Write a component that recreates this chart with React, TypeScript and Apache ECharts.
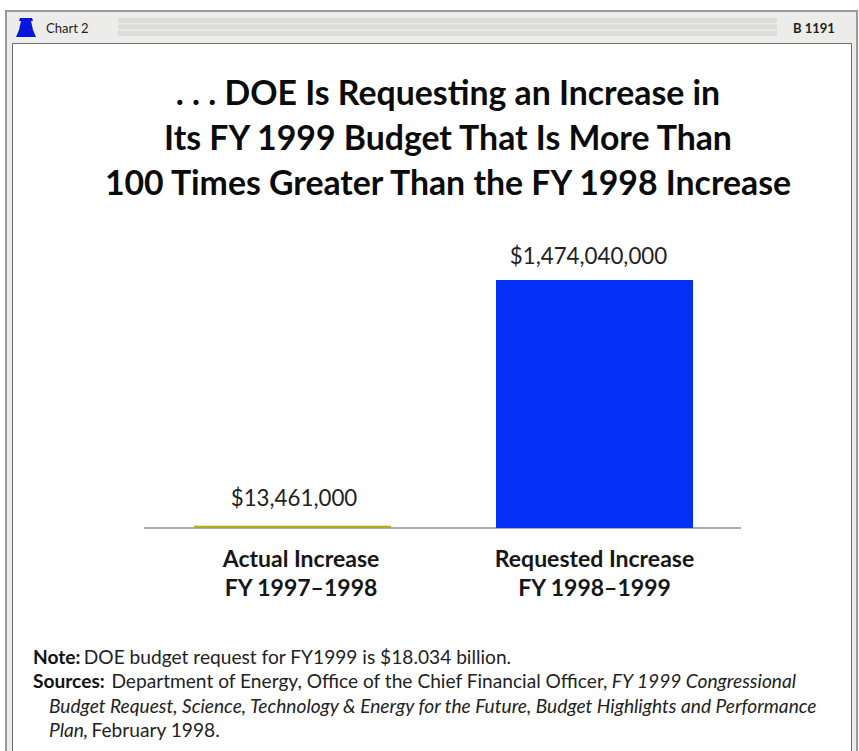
import React, { useEffect, useRef } from "react";
import * as echarts from "echarts";

const categories = ["Actual Increase\nFY 1997–1998", "Requested Increase\nFY 1998–1999"];
const increases = [13461000, 1474040000];
const valueLabels = ["$13,461,000", "$1,474,040,000"];
const barColors = ["#b3ad1e", "#0530f8"];
const titleText = ". . . DOE Is Requesting an Increase in\nIts FY 1999 Budget That Is More Than\n100 Times Greater Than the FY 1998 Increase";
const chartTag = "Chart 2";
const reportTag = "B 1191";

const FONT = "Lato";
const NOTE_SIZE = 19.15;

echarts.graphic.registerShape(
  "bellIcon",
  echarts.graphic.extendPath(
    "M4 0 L16 0 L17 3 L15 3 L17 12 L20 19 L0 19 L3 12 L5 3 L3 3 Z",
    {}
  )
);

const headerStripes = [18, 24.5, 31].map((y) => ({
  type: "rect",
  shape: { x: 118, y, width: 659, height: 5 },
  style: { fill: "#dcdcd8" },
  silent: true,
}));

export default function App() {
  const ref = useRef<HTMLDivElement>(null);

  useEffect(() => {
    const chart = echarts.init(ref.current!, null, { renderer: "svg" });
    chart.setOption({
      animation: false,
      backgroundColor: "#ffffff",
      title: {
        text: titleText,
        left: 443,
        top: 64,
        textAlign: "center",
        textStyle: {
          fontFamily: FONT,
          fontWeight: "bold",
          fontSize: 33.8,
          lineHeight: 45,
          color: "#0b0b0b",
        },
      },
      grid: { left: 141.5, top: 280, width: 604, height: 248 },
      xAxis: {
        type: "category",
        data: categories,
        axisLine: { show: false },
        axisTick: { show: false },
        axisLabel: {
          margin: 15,
          formatter: (value: string, index: number) =>
            value
              .split("\n")
              .map((line) => `{${index === 0 ? "first" : "second"}|${line}}`)
              .join("\n"),
          rich: {
            first: {
              fontFamily: FONT,
              fontWeight: "bold",
              fontSize: 23,
              lineHeight: 29,
              color: "#161616",
              padding: [0, 0, 0, 17],
            },
            second: {
              fontFamily: FONT,
              fontWeight: "bold",
              fontSize: 23,
              lineHeight: 29,
              color: "#161616",
            },
          },
        },
      },
      yAxis: { type: "value", min: 0, max: 1474040000, show: false },
      series: [
        {
          type: "bar",
          barWidth: 197,
          data: increases.map((value, i) => ({
            value,
            itemStyle: { color: barColors[i] },
            label: {
              show: true,
              position: "top",
              distance: i === 0 ? 17 : 14,
              offset: i === 0 ? [1.5, 0] : [-6, 0],
              formatter: valueLabels[i],
              fontFamily: FONT,
              fontSize: 22.3,
              color: "#222",
            },
          })),
        },
      ],
      graphic: [
        {
          type: "rect",
          z: -10,
          shape: { x: 6, y: 11, width: 851, height: 745 },
          style: { fill: "#ececea", stroke: "#9a9a9a", lineWidth: 2 },
          silent: true,
        },
        ...headerStripes,
        {
          type: "rect",
          z: -5,
          shape: { x: 12.5, y: 43.5, width: 839, height: 712 },
          style: { fill: "#ffffff", stroke: "#6e6e6e", lineWidth: 1 },
          silent: true,
        },
        {
          type: "line",
          shape: { x1: 144, y1: 528, x2: 741, y2: 528 },
          style: { stroke: "#8f8f8f", lineWidth: 1.5 },
          silent: true,
          z: -1,
        },
        { type: "bellIcon", x: 16, y: 18, style: { fill: "#0a14e0" } },
        {
          type: "text",
          x: 46,
          y: 21,
          style: { text: chartTag, fontFamily: FONT, fontSize: 13, fill: "#222" },
        },
        {
          type: "text",
          x: 793,
          y: 21,
          style: { text: reportTag, fontFamily: FONT, fontSize: 13, fontWeight: "bold", fill: "#222" },
        },
        {
          type: "text",
          x: 33,
          y: 647,
          style: {
            text: "{b|Note:} {n|DOE budget request for FY1999 is $18.034 billion.}",
            rich: {
              b: { fontFamily: FONT, fontSize: NOTE_SIZE, fontWeight: "bold", fill: "#111" },
              n: { fontFamily: FONT, fontSize: NOTE_SIZE, fill: "#222" },
            },
          },
        },
        {
          type: "text",
          x: 33,
          y: 671,
          style: {
            text: "{b|Sources:}  {n|Department of Energy, Office of the Chief Financial Officer,} {i|FY 1999 Congressional}",
            rich: {
              b: { fontFamily: FONT, fontSize: NOTE_SIZE, fontWeight: "bold", fill: "#111" },
              n: { fontFamily: FONT, fontSize: NOTE_SIZE, fill: "#222" },
              i: { fontFamily: FONT, fontSize: NOTE_SIZE, fontStyle: "italic", fill: "#222" },
            },
          },
        },
        {
          type: "text",
          x: 49,
          y: 696,
          style: {
            text: "Budget Request, Science, Technology & Energy for the Future, Budget Highlights and Performance",
            fontFamily: FONT,
            fontSize: NOTE_SIZE,
            fontStyle: "italic",
            fill: "#222",
          },
        },
        {
          type: "text",
          x: 49,
          y: 720,
          style: {
            text: "{i|Plan,} {n|February 1998.}",
            rich: {
              n: { fontFamily: FONT, fontSize: NOTE_SIZE, fill: "#222" },
              i: { fontFamily: FONT, fontSize: NOTE_SIZE, fontStyle: "italic", fill: "#222" },
            },
          },
        },
      ],
    });
    return () => chart.dispose();
  }, []);

  return <div ref={ref} style={{ position: "absolute", left: 0, top: 0, width: 859, height: 751 }} />;
}
